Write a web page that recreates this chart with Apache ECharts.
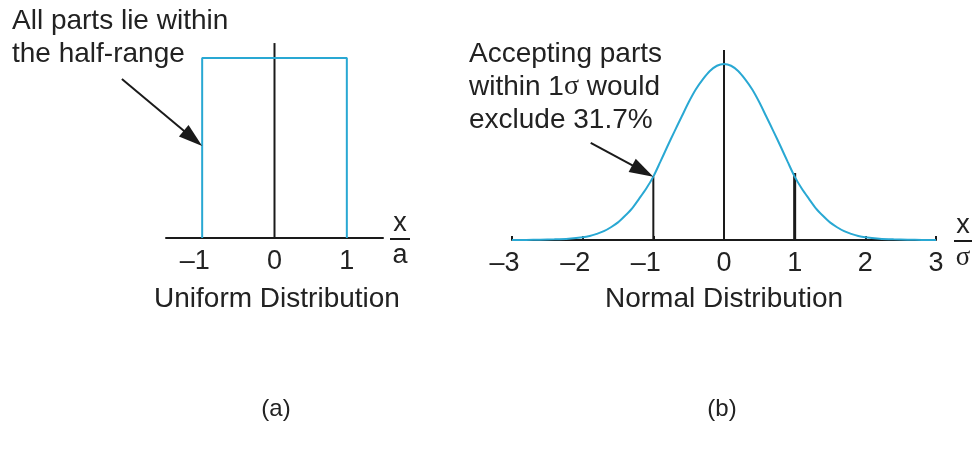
<!DOCTYPE html>
<html>
<head>
<meta charset="utf-8">
<script src="https://cdn.jsdelivr.net/npm/echarts@6/dist/echarts.min.js"></script>
<style>
  html, body { margin: 0; padding: 0; background: #fff; }
  #chart { width: 975px; height: 450px; }
</style>
</head>
<body>
<div id="chart"></div>
<script>
// ---- data ----
// (a) uniform distribution on [-1, 1], drawn as an open box
const uniformX = [-1, -1, 1, 1];
const uniformY = [0, 1, 1, 0];
const uniformCenterTop = 1.083;
const uniformTicks = [-1, 0, 1];

// (b) normal curve, x in units of sigma
const normalX = [-3, -2.8, -2.6, -2.4, -2.2, -2.0, -1.9, -1.8, -1.7, -1.6, -1.5, -1.4, -1.3, -1.2, -1.1, -1.0,
  -0.9, -0.8, -0.7, -0.6, -0.5, -0.4, -0.3, -0.2, -0.1, 0,
  0.1, 0.2, 0.3, 0.4, 0.5, 0.6, 0.7, 0.8, 0.9, 1.0, 1.1, 1.2, 1.3, 1.4, 1.5, 1.6, 1.7, 1.8, 1.9, 2.0,
  2.2, 2.4, 2.6, 2.8, 3];
const normalY = [0, 0.0002, 0.0006, 0.0015, 0.003, 0.006, 0.009, 0.014, 0.020, 0.029, 0.040, 0.055, 0.072, 0.094, 0.117, 0.144,
  0.178, 0.213, 0.247, 0.280, 0.313, 0.342, 0.365, 0.384, 0.396, 0.400,
  0.396, 0.384, 0.365, 0.342, 0.313, 0.280, 0.247, 0.213, 0.178, 0.144, 0.117, 0.094, 0.072, 0.055, 0.040, 0.029, 0.020, 0.014, 0.009, 0.006,
  0.003, 0.0015, 0.0006, 0.0002, 0];
// vertical markers at -1σ, 0, +1σ
const sigmaLineX = [-1, 0, 1];
const sigmaLineTop = [0.144, 0.432, 0.152];

// annotation arrows (tail -> tip), in each panel's data units
const arrowA = { tail: [-2.11, 0.883], tip: [-1, 0.511] };
const arrowB = { tail: [-1.886, 0.2205], tip: [-1, 0.144] };

// texts
const noteA = ['All parts lie within', 'the half-range'];
const noteB = ['Accepting parts', 'within 1{s|σ} would', 'exclude 31.7%'];
const titleA = 'Uniform Distribution';
const titleB = 'Normal Distribution';
const panelTags = ['(a)', '(b)'];

// ---- style ----
const BLUE = '#29a8d3';
const INK = '#1a1a1a';
const TEXT = '#222';
const SANS = '"Liberation Sans", Arial, sans-serif';
const SERIF = '"Liberation Serif", "Times New Roman", serif';

const chart = echarts.init(document.getElementById('chart'), null, { renderer: 'canvas' });

function pair(xs, ys) { return xs.map((x, i) => [x, ys[i]]); }
function tickText(v) {
  return v < 0 ? '{neg|\u2013' + Math.abs(v) + '}' : String(v);
}
const labelStyle = {
  fontSize: 27, fontFamily: SANS, color: TEXT, margin: 10,
  formatter: tickText,
  rich: { neg: { fontSize: 27, fontFamily: SANS, color: TEXT, padding: [0, 15, 0, 0] } }
};

const vline = (grid, x, top, width) => ({
  type: 'line', xAxisIndex: grid, yAxisIndex: grid, data: [[x, 0], [x, top]],
  symbol: 'none', lineStyle: { color: INK, width: width }, z: 3, silent: true
});

chart.setOption({
  animation: false,
  grid: [
    { left: 166, top: 22, width: 217, height: 216 },
    { left: 512, top: 20, width: 424, height: 220 }
  ],
  xAxis: [
    {
      type: 'value', gridIndex: 0, min: -1.5, max: 1.5,
      splitLine: { show: false },
      axisLine: { lineStyle: { color: INK, width: 2 } },
      axisTick: { show: false },
      axisLabel: Object.assign({ customValues: uniformTicks }, labelStyle)
    },
    {
      type: 'value', gridIndex: 1, min: -3, max: 3, interval: 1,
      splitLine: { show: false },
      axisLine: { lineStyle: { color: INK, width: 2 } },
      axisTick: { show: true, inside: true, length: 4, lineStyle: { color: INK, width: 2 } },
      axisLabel: labelStyle
    }
  ],
  yAxis: [
    { type: 'value', gridIndex: 0, min: 0, max: 1.2, show: false },
    { type: 'value', gridIndex: 1, min: 0, max: 0.5, show: false }
  ],
  series: [
    {
      type: 'line', xAxisIndex: 0, yAxisIndex: 0, data: pair(uniformX, uniformY),
      symbol: 'none', lineStyle: { color: BLUE, width: 2 }, z: 4, silent: true
    },
    vline(0, 0, uniformCenterTop, 2),
    {
      type: 'line', xAxisIndex: 1, yAxisIndex: 1, data: pair(normalX, normalY),
      symbol: 'none', smooth: 0.3, lineStyle: { color: BLUE, width: 2 }, z: 4, silent: true
    },
    vline(1, sigmaLineX[0], sigmaLineTop[0], 2),
    vline(1, sigmaLineX[1], sigmaLineTop[1], 2),
    vline(1, sigmaLineX[2], sigmaLineTop[2], 3)
  ]
});

// ---- annotations ----
function arrow(gridIndex, a) {
  const p0 = chart.convertToPixel({ gridIndex }, a.tail);
  const p1 = chart.convertToPixel({ gridIndex }, a.tip);
  const dx = p1[0] - p0[0], dy = p1[1] - p0[1];
  const len = Math.hypot(dx, dy);
  const ux = dx / len, uy = dy / len, nx = -uy, ny = ux;
  const L = 24, W = 15;
  const bx = p1[0] - ux * L, by = p1[1] - uy * L;
  return [
    { type: 'line', shape: { x1: p0[0], y1: p0[1], x2: bx + ux * 4, y2: by + uy * 4 },
      style: { stroke: INK, lineWidth: 2 }, z: 10 },
    { type: 'polygon', shape: { points: [[p1[0], p1[1]], [bx + nx * W / 2, by + ny * W / 2], [bx - nx * W / 2, by - ny * W / 2]] },
      style: { fill: INK }, z: 10 }
  ];
}
function text(str, x, y, opt) {
  opt = opt || {};
  const size = opt.size || 28;
  return {
    type: 'text', x: x, y: y, z: 10, silent: true,
    style: {
      text: str, fill: TEXT, fontSize: size, fontFamily: opt.family || SANS,
      align: opt.align || 'left', verticalAlign: 'middle',
      rich: { s: { fontFamily: SERIF, fontSize: size, fill: TEXT } }
    }
  };
}
function fraction(cx, topText, bottomText, bottomFamily, lineY, half) {
  return [
    text(topText, cx, lineY - 15, { align: 'center', size: 27 }),
    { type: 'line', shape: { x1: cx - half, y1: lineY, x2: cx + half, y2: lineY }, style: { stroke: INK, lineWidth: 2 }, z: 10 },
    text(bottomText, cx, lineY + 17, { align: 'center', family: bottomFamily, size: 27 })
  ];
}

const g = [];
g.push(...arrow(0, arrowA), ...arrow(1, arrowB));
noteA.forEach((s, i) => g.push(text(s, 12, 21 + i * 33)));
noteB.forEach((s, i) => g.push(text(s, 469, 54 + i * 33)));
g.push(text(titleA, 277, 299, { align: 'center' }));
g.push(text(titleB, 724, 299, { align: 'center' }));
g.push(...fraction(400, 'x', 'a', SANS, 239, 10));
g.push(...fraction(963, 'x', 'σ', SERIF, 241, 9));
g.push(text(panelTags[0], 276, 409, { align: 'center', size: 24 }));
g.push(text(panelTags[1], 722, 409, { align: 'center', size: 24 }));
chart.setOption({ graphic: g });
</script>
</body>
</html>
